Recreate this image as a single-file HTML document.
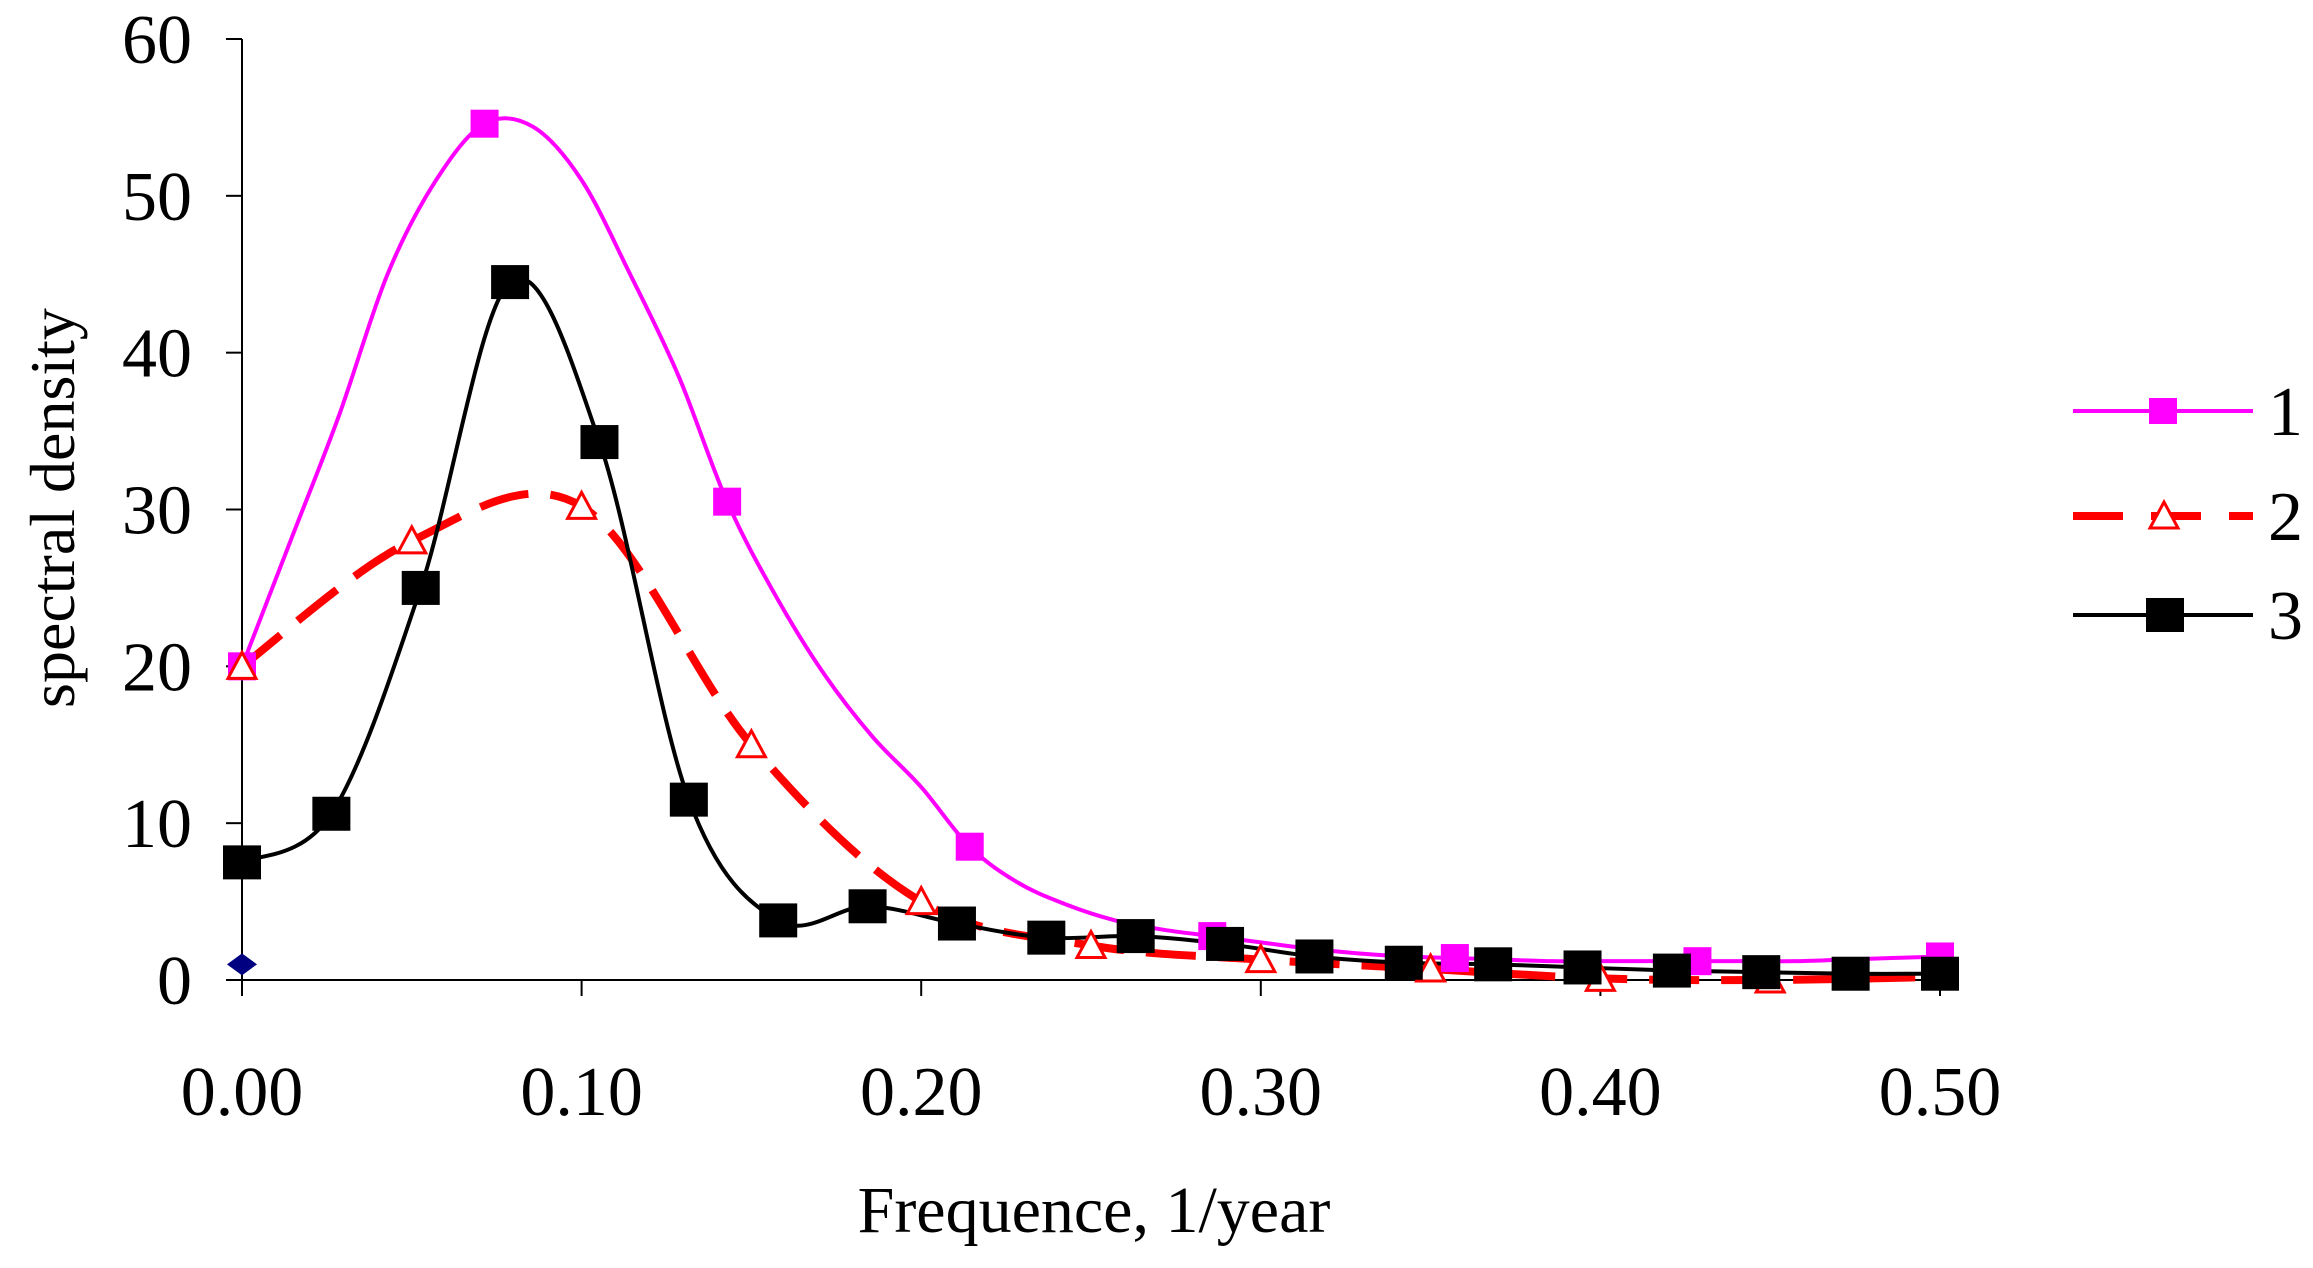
<!DOCTYPE html>
<html><head><meta charset="utf-8"><style>
html,body{margin:0;padding:0;background:#fff;}
svg{display:block;font-family:"Liberation Serif",serif;}
</style></head><body>
<svg id="chart" width="2313" height="1268" viewBox="0 0 2313 1268" xmlns="http://www.w3.org/2000/svg">
<g id="axes"></g>
<g id="plot"></g>
<g id="legend"></g>
<text x="1094" y="1232" font-size="66" text-anchor="middle">Frequence, 1/year</text>
<text transform="translate(74,508) rotate(-90)" font-size="64" text-anchor="middle">spectral density</text>
</svg>
<script>
const yTicks=[0,10,20,30,40,50,60];
const xTicks=[0,0.1,0.2,0.3,0.4,0.5];
const s1Values=[20,28,36,45,51,54.6,54.4,51,45,38.5,30.5,24.5,19.5,15.5,12.3,8.5,6.2,4.8,3.8,3.2,2.8,2.4,2.0,1.7,1.5,1.4,1.3,1.2,1.2,1.2,1.2,1.2,1.2,1.3,1.4,1.5];
const s1Step=1/70;
const s2Values=[20,28,30.2,15,5,2.2,1.3,0.7,0.1,0,0.2];
const s2Step=0.05;
const s3Values=[7.5,10.6,25,44.5,34.3,11.5,3.8,4.7,3.6,2.7,2.8,2.3,1.5,1.1,1.0,0.8,0.6,0.5,0.4,0.4];
const s3Step=1/38;
const extraPoint=[0,1];
const NS="http://www.w3.org/2000/svg";
const X0=242,X1=1940,Y0=980,Y1=39;
const xs=v=>X0+(X1-X0)*v/0.5;
const ys=v=>Y0-(Y0-Y1)*v/60;
function mk(tag,attrs,parent){const e=document.createElementNS(NS,tag);for(const k in attrs)e.setAttribute(k,attrs[k]);parent.appendChild(e);return e;}
const axes=document.getElementById('axes'),plot=document.getElementById('plot'),leg=document.getElementById('legend');
let a=mk('line',{x1:X0,y1:Y1,x2:X0,y2:Y0+16,stroke:'#000','stroke-width':2},axes);

a=mk('line',{x1:X0,y1:Y0,x2:X1,y2:Y0,stroke:'#000','stroke-width':2},axes);

yTicks.forEach(t=>{
  mk('line',{x1:X0-16,y1:ys(t),x2:X0,y2:ys(t),stroke:'#000','stroke-width':2},axes);
  const tx=mk('text',{x:X0-50,y:ys(t)+24,'font-size':70,'text-anchor':'end'},axes);
  tx.textContent=t;
  
  
});
xTicks.forEach(t=>{
  mk('line',{x1:xs(t),y1:Y0,x2:xs(t),y2:Y0+16,stroke:'#000','stroke-width':2},axes);
  const tx=mk('text',{x:xs(t),y:Y0+135,'font-size':70,'text-anchor':'middle'},axes);
  tx.textContent=t.toFixed(2);
  
  
});
function smooth(pts){
  let d='M'+pts[0][0]+','+pts[0][1];
  for(let i=0;i<pts.length-1;i++){
    const p0=pts[i-1]||pts[i],p1=pts[i],p2=pts[i+1],p3=pts[i+2]||p2;
    const c1=[p1[0]+(p2[0]-p0[0])/6,p1[1]+(p2[1]-p0[1])/6];
    const c2=[p2[0]-(p3[0]-p1[0])/6,p2[1]-(p3[1]-p1[1])/6];
    d+='C'+c1+' '+c2+' '+p2;
  }
  return d;
}
function pts(vals,step){return vals.map((v,i)=>[xs(i*step),ys(v)]);}
const p1=pts(s1Values,s1Step);
let l=mk('path',{d:smooth(p1),fill:'none',stroke:'#ff00ff','stroke-width':4},plot);

const p2=pts(s2Values,s2Step);
l=mk('path',{d:smooth(p2),fill:'none',stroke:'#ff0000','stroke-width':8,'stroke-dasharray':'50,22'},plot);

const p3=pts(s3Values,s3Step);
l=mk('path',{d:smooth(p3),fill:'none',stroke:'#000','stroke-width':4},plot);

p1.forEach((p,i)=>{if(i%5)return;
  const m=mk('rect',{x:p[0]-14,y:p[1]-14,width:28,height:28,fill:'#ff00ff'},plot);
  });
p2.forEach(p=>{
  const m=mk('polygon',{points:`${p[0]},${p[1]-14} ${p[0]-14},${p[1]+12} ${p[0]+14},${p[1]+12}`,fill:'#fff',stroke:'#ff0000','stroke-width':3},plot);
  });
p3.forEach(p=>{
  const m=mk('rect',{x:p[0]-19,y:p[1]-17,width:38,height:34,fill:'#000'},plot);
  });
const ex=[xs(extraPoint[0]),ys(extraPoint[1])];
let dm=mk('polygon',{points:`${ex[0]},${ex[1]-11} ${ex[0]+15},${ex[1]} ${ex[0]},${ex[1]+11} ${ex[0]-15},${ex[1]}`,fill:'#000080'},plot);

const LX0=2073;
[[411,'1'],[516,'2'],[615,'3']].forEach(([y,t],i)=>{
  const g=mk('g',{},leg);
  
  if(i===0){mk('line',{x1:LX0,y1:y,x2:2253,y2:y,stroke:'#ff00ff','stroke-width':4},g);
    mk('rect',{x:2149,y:y-13,width:28,height:26,fill:'#ff00ff'},g);}
  if(i===1){mk('line',{x1:LX0,y1:y,x2:2253,y2:y,stroke:'#ff0000','stroke-width':8,'stroke-dasharray':'50,28'},g);
    mk('polygon',{points:`2164,${y-14} 2150,${y+12} 2178,${y+12}`,fill:'#fff',stroke:'#ff0000','stroke-width':3},g);}
  if(i===2){mk('line',{x1:LX0,y1:y,x2:2253,y2:y,stroke:'#000','stroke-width':4},g);
    mk('rect',{x:2146,y:y-17,width:38,height:34,fill:'#000'},g);}
  const tx=mk('text',{x:2268,y:y+24,'font-size':70},g);tx.textContent=t;
  
  
});
</script>
</body></html>
